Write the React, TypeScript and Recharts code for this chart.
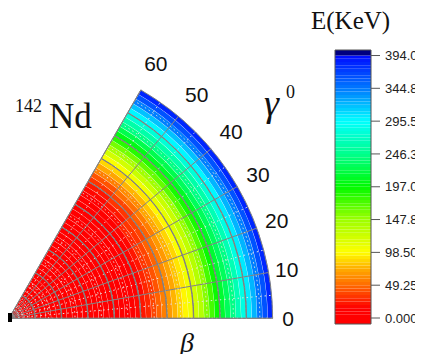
import React from 'react';
import {
  RadialBarChart,
  RadialBar,
  PolarAngleAxis,
  PolarRadiusAxis,
  PolarGrid,
  Cell,
  ComposedChart,
  XAxis,
  YAxis,
  ReferenceArea,
} from 'recharts';

// ---- data ----
// beta band centres (fraction of the outer radius)
const betaBands = [
  0.01, 0.03, 0.05, 0.07, 0.09, 0.11, 0.13, 0.15, 0.17, 0.19,
  0.21, 0.23, 0.25, 0.27, 0.29, 0.31, 0.33, 0.35, 0.37, 0.39,
  0.41, 0.43, 0.45, 0.47, 0.49, 0.51, 0.53, 0.55, 0.57, 0.59,
  0.61, 0.63, 0.65, 0.67, 0.69, 0.71, 0.73, 0.75, 0.77, 0.79,
  0.81, 0.83, 0.85, 0.87, 0.89, 0.91, 0.93, 0.95, 0.97, 0.99,
];
// energy (keV) along each gamma sector (sector centres 5..55 deg)
const energyG05 = [
  0, 0.1, 0.2, 0.3, 0.4, 0.5, 0.6, 0.8, 1.0, 1.2,
  1.4, 1.6, 1.8, 2.0, 2.2, 2.4, 2.6, 2.9, 3.2, 3.5,
  4.5, 6, 8, 11, 15, 21, 28, 37, 47, 57,
  67, 77, 87, 96, 107, 120, 136, 154, 174, 194,
  213, 230, 246, 263, 283, 303, 324, 345, 364, 384,
];
const energyG15 = [
  0, 0.1, 0.2, 0.3, 0.4, 0.5, 0.6, 0.8, 1.0, 1.2,
  1.4, 1.6, 1.8, 2.0, 2.2, 2.4, 2.6, 2.9, 3.2, 3.5,
  4.3, 5.7, 7.5, 10.3, 14, 19.5, 26, 34, 43, 53,
  63, 73, 83, 93, 104, 118, 134, 152, 173, 193,
  212, 229, 245, 262, 282, 302, 323, 344, 364, 384,
];
const energyG25 = [
  0, 0.1, 0.2, 0.3, 0.4, 0.5, 0.6, 0.8, 1.0, 1.2,
  1.4, 1.6, 1.8, 2.0, 2.2, 2.4, 2.6, 2.9, 3.2, 3.5,
  4.0, 5.2, 6.8, 9.2, 12.4, 17.2, 23, 30, 38, 46,
  56, 66, 78, 88, 101, 115, 131, 150, 170, 191,
  211, 228, 245, 262, 281, 301, 322, 344, 363, 384,
];
const energyG35 = [
  0, 0.1, 0.2, 0.3, 0.4, 0.5, 0.6, 0.8, 1.0, 1.2,
  1.4, 1.6, 1.8, 2.0, 2.2, 2.4, 2.6, 2.9, 3.2, 3.5,
  3.6, 4.6, 5.9, 7.9, 10.6, 14.5, 19, 25, 31, 39,
  48, 59, 71, 83, 96, 111, 128, 147, 168, 189,
  209, 227, 244, 261, 280, 300, 321, 343, 363, 384,
];
const energyG45 = [
  0, 0.1, 0.2, 0.3, 0.4, 0.5, 0.6, 0.8, 1.0, 1.2,
  1.4, 1.6, 1.8, 2.0, 2.2, 2.4, 2.6, 2.9, 3.2, 3.5,
  3.2, 3.9, 5.0, 6.4, 8.5, 11.5, 14.7, 19, 23, 30,
  39, 50, 63, 76, 91, 107, 124, 143, 165, 187,
  207, 225, 243, 260, 278, 298, 320, 342, 363, 383,
];
const energyG55 = [
  0, 0.1, 0.2, 0.3, 0.4, 0.5, 0.6, 0.8, 1.0, 1.2,
  1.4, 1.6, 1.8, 2.0, 2.2, 2.4, 2.6, 2.9, 3.2, 3.5,
  2.8, 3.3, 4.0, 5.0, 6.5, 8.5, 10.5, 13, 16, 22,
  30, 42, 56, 70, 86, 103, 120, 140, 162, 185,
  205, 224, 242, 259, 277, 297, 319, 341, 362, 383,
];
const gammaSectors = ['g05', 'g15', 'g25', 'g35', 'g45', 'g55'];
const gammaSectorEnergy = [energyG05, energyG15, energyG25, energyG35, energyG45, energyG55];
const gammaSectorWidth = 10;
const gammaMax = 60;
const gammaMajor = [0, 10, 20, 30, 40, 50, 60];
const gammaMinor = [5, 15, 25, 35, 45, 55];
const betaMajorRings = [0.1, 0.2, 0.3, 0.4, 0.5, 0.6, 0.7, 0.8, 0.9, 1.0];
const betaMinorRings = [
  0.05, 0.1, 0.15, 0.2, 0.25, 0.3, 0.35, 0.4, 0.45, 0.5,
  0.55, 0.6, 0.65, 0.7, 0.75, 0.8, 0.85, 0.9, 0.95, 1.0,
];
const cbTicks = [0, 49.25, 98.5, 147.8, 197, 246.3, 295.5, 344.8, 394];
const cbTickLabels = ['0.000', '49.25', '98.50', '147.8', '197.0', '246.3', '295.5', '344.8', '394.0'];
const E_MAX = 394;
const N_LEVELS = 80;

// ---- layout / style ----
// the page has an 8px body margin: draw in 415 x 354, keep the flow box inside the window
const W = 415;
const H = 354;
const CX = 1;
const CY = 310.3;
const R = 264;

const stops: [number, number[]][] = [
  [0, [255, 0, 0]],
  [15, [255, 0, 0]],
  [49.25, [255, 106, 0]],
  [75, [255, 176, 0]],
  [98.5, [255, 255, 0]],
  [147.8, [156, 255, 0]],
  [197, [0, 250, 0]],
  [246.3, [0, 255, 140]],
  [295.5, [0, 255, 255]],
  [344.8, [0, 120, 255]],
  [394, [0, 10, 255]],
];
const rgbAt = (v: number) => {
  if (v <= stops[0][0]) return stops[0][1];
  for (let i = 1; i < stops.length; i++) {
    if (v <= stops[i][0]) {
      const [a, ca] = stops[i - 1];
      const [b, cb] = stops[i];
      const t = (v - a) / (b - a);
      return ca.map((c, k) => Math.round(c + (cb[k] - c) * t));
    }
  }
  return stops[stops.length - 1][1];
};
const toHex = (c: number[]) => '#' + c.map((x) => x.toString(16).padStart(2, '0')).join('');
const step = E_MAX / N_LEVELS;
const colorFor = (e: number) => {
  const lvl = Math.min(N_LEVELS - 1, Math.max(0, Math.floor(e / step)));
  return toHex(rgbAt((lvl + 0.5) * step));
};

const bandData = betaBands.map((b) => {
  const row: any = { beta: b };
  gammaSectors.forEach((g) => (row[g] = gammaSectorWidth));
  return row;
});
const majorData = betaMajorRings.map((b) => ({ beta: b, span: gammaMax }));
const minorData = betaMinorRings.map((b) => ({ beta: b, span: gammaMax }));

const levels = Array.from({ length: N_LEVELS }, (_, i) => ({
  y1: i * step,
  y2: (i + 1) * step,
  color: toHex(rgbAt((i + 0.5) * step)),
}));
const CB_MIN = -9;
const CB_MAX = 402.3;

const GammaTick = (props: any) => {
  const { payload } = props;
  const deg = Number(payload.value);
  const rad = (deg * Math.PI) / 180;
  const r = R + 15 + 17 * Math.sin(rad);
  const x = CX + r * Math.cos(rad);
  const y = CY - r * Math.sin(rad);
  return (
    <text
      x={x}
      y={y}
      textAnchor="middle"
      dominantBaseline="central"
      fontFamily="Liberation Sans, Arial, sans-serif"
      fontSize={21}
      fill="#111"
    >
      {payload.value}
    </text>
  );
};

const abs: React.CSSProperties = { position: 'absolute', left: 0, top: 0 };

const RingChart = ({ data, stroke, dash, every }: { data: any[]; stroke: string; dash?: string; every: number }) => (
  <RadialBarChart
    width={W}
    height={H}
    data={data}
    cx={CX}
    cy={CY}
    innerRadius={0}
    outerRadius={R}
    startAngle={0}
    endAngle={60}
    barCategoryGap={0}
    barGap={0}
    margin={{ top: 0, right: 0, bottom: 0, left: 0 }}
  >
    <PolarAngleAxis type="number" domain={[0, gammaMax]} tick={false} tickLine={false} axisLine={false} />
    <PolarRadiusAxis type="category" dataKey="beta" tick={false} tickLine={false} axisLine={false} />
    <RadialBar dataKey="span" isAnimationActive={false} fill="none">
      {data.map((d, i) => (
        <Cell
          key={i}
          fill="none"
          stroke={i % every === every - 1 ? stroke : 'none'}
          strokeDasharray={dash}
          strokeWidth={1}
        />
      ))}
    </RadialBar>
  </RadialBarChart>
);

export default function App() {
  return (
    <div style={{ position: 'relative', width: W - 8, height: H - 8, overflow: 'visible' }}>
      <div style={abs}>
        <RadialBarChart
          width={W}
          height={H}
          data={bandData}
          cx={CX}
          cy={CY}
          innerRadius={0}
          outerRadius={R}
          startAngle={0}
          endAngle={60}
          barCategoryGap={0}
          barGap={0}
          margin={{ top: 0, right: 0, bottom: 0, left: 0 }}
        >
          <PolarAngleAxis
            type="number"
            domain={[0, gammaMax]}
            tickCount={7}
            allowDecimals={false}
            tick={<GammaTick />}
            tickLine={false}
            axisLine={false}
          />
          <PolarRadiusAxis type="category" dataKey="beta" tick={false} tickLine={false} axisLine={false} />
          {gammaSectors.map((g, k) => (
            <RadialBar key={g} dataKey={g} stackId="gamma" isAnimationActive={false}>
              {bandData.map((d, i) => (
                <Cell key={i} fill={colorFor(gammaSectorEnergy[k][i])} />
              ))}
            </RadialBar>
          ))}
          <PolarGrid
            gridType="circle"
            polarAngles={gammaMinor}
            polarRadius={[]}
            stroke="#e4e4e4"
            strokeDasharray="1.5 3"
            zIndex={350}
          />
          <PolarGrid
            gridType="circle"
            polarAngles={gammaMajor}
            polarRadius={[]}
            stroke="#808080"
            zIndex={360}
          />
        </RadialBarChart>
      </div>
      <div style={abs}>
        <RingChart data={minorData} stroke="#e4e4e4" dash="1.5 3" every={2} />
      </div>
      <div style={abs}>
        <RingChart data={majorData} stroke="#808080" every={1} />
      </div>
      <div style={abs}>
        <ComposedChart
          width={W}
          height={H}
          data={[{ x: 'c' }]}
          margin={{ top: 42, right: 0, bottom: 38, left: 327 }}
        >
          <XAxis dataKey="x" hide />
          <YAxis
            orientation="right"
            type="number"
            domain={[CB_MIN, CB_MAX]}
            ticks={cbTicks}
            allowDataOverflow
            interval={0}
            tickFormatter={(v: number) => {
              const i = cbTicks.indexOf(v);
              return i >= 0 ? cbTickLabels[i] : String(v);
            }}
            width={52}
            tickSize={9}
            tickMargin={5}
            axisLine={false}
            tickLine={{ stroke: '#555' }}
            tick={{ fill: '#222', fontSize: 13, fontFamily: 'Liberation Sans, Arial, sans-serif' }}
          />
          <ReferenceArea y1={CB_MIN} y2={0} fill={levels[0].color} fillOpacity={1} stroke="none" ifOverflow="visible" />
          {levels.map((l, i) => (
            <ReferenceArea
              key={i}
              y1={l.y1}
              y2={l.y2}
              fill={l.color}
              fillOpacity={1}
              stroke="none"
              ifOverflow="visible"
            />
          ))}
          <ReferenceArea y1={E_MAX} y2={CB_MAX} fill="#000080" fillOpacity={1} stroke="none" ifOverflow="visible" />
          <ReferenceArea y1={CB_MIN} y2={CB_MAX} fill="none" fillOpacity={0} stroke="#555" ifOverflow="visible" />
        </ComposedChart>
      </div>
      <svg width={W} height={H} style={{ ...abs, overflow: 'visible', pointerEvents: 'none' }}>
        <rect x={-4} y={305} width={8} height={9} fill="#000" />
        <text fontFamily="Liberation Serif, Times New Roman, serif" fill="#111">
          <tspan x={7} y={104} fontSize={18}>142</tspan>
          <tspan x={41} y={120} fontSize={35}>Nd</tspan>
        </text>
        <text
          x={256}
          y={108}
          fontFamily="Liberation Serif, Times New Roman, serif"
          fontStyle="italic"
          fontSize={38}
          fill="#111"
        >
          γ
        </text>
        <text x={278} y={90} fontFamily="Liberation Serif, Times New Roman, serif" fontSize={18} fill="#111">
          0
        </text>
        <text x={172} y={344} fontFamily="Liberation Serif, Times New Roman, serif" fontStyle="italic" fontSize={28} fill="#111">
          β
        </text>
        <text x={303} y={21} fontFamily="Liberation Serif, Times New Roman, serif" fontSize={25} fill="#111">
          E(KeV)
        </text>
      </svg>
    </div>
  );
}
